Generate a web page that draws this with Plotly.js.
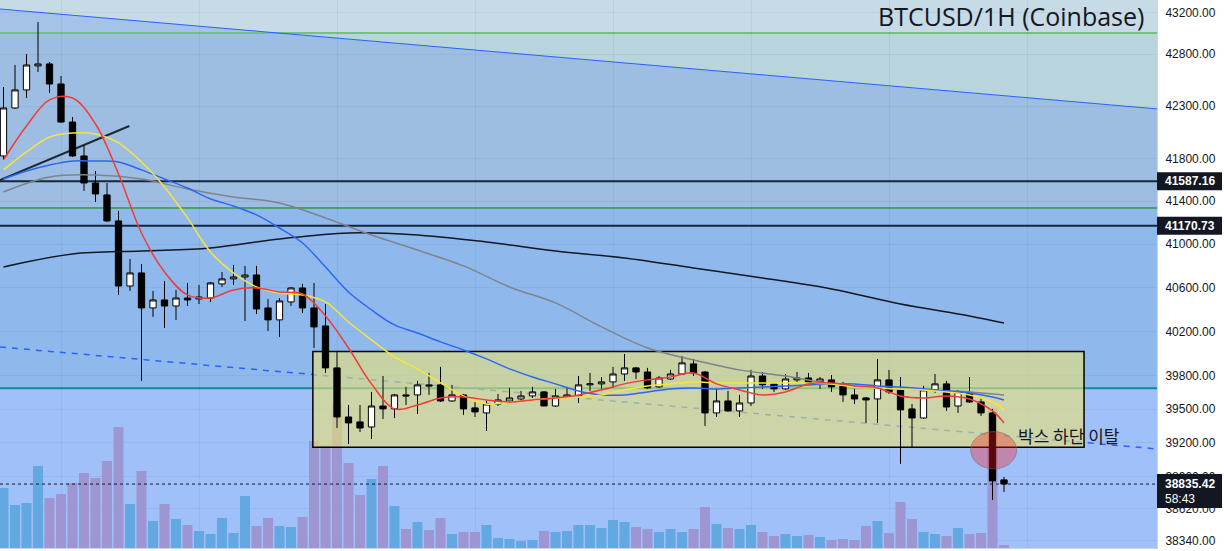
<!DOCTYPE html>
<html><head><meta charset="utf-8">
<script src="https://cdn.plot.ly/plotly-3.0.1.min.js"></script>
<style>html,body{margin:0;padding:0;background:#fff}#chart{width:1224px;height:551px}</style>
</head><body><div id="chart"></div>
<script>
// ---- data ----
const candleIndex = Array.from({length: 88}, (_, i) => i);
const openP = [41826,42282,42455,42686,42705,42512,42148,41826,41571,41459,
  41216,40614,40734,40413,40486,40431,40504,40495,40504,40633,
  40679,40697,40715,40413,40304,40468,40596,40413,40249,39869,
  39429,39385,39340,39527,39501,39626,39626,39716,39716,39572,
  39626,39510,39465,39545,39572,39590,39617,39653,39527,39608,
  39617,39716,39725,39743,39814,39869,39832,39698,39769,39814,
  39905,39832,39465,39572,39483,39554,39796,39725,39680,39761,
  39778,39743,39761,39707,39626,39599,39590,39761,39671,39501,
  39420,39671,39725,39527,39644,39563,39465,38872];
const highP = [42483,42695,42801,43112,42724,42589,42196,41930,41684,41571,
  41309,40863,40817,40569,40660,40578,40642,40624,40651,40743,
  40808,40799,40799,40495,40504,40605,40633,40642,40449,40013,
  39536,39536,39653,39796,39635,39698,39752,39823,39878,39716,
  39635,39563,39572,39635,39689,39662,39698,39662,39680,39698,
  39796,39823,39787,39878,39995,39878,39869,39796,39851,39977,
  39950,39841,39680,39662,39626,39851,39832,39734,39814,39832,
  39823,39787,39805,39743,39680,39608,39950,39851,39787,39545,
  39707,39814,39752,39671,39787,39599,39501,38898];
const lowP = [41788,42273,42378,42628,42426,42139,41817,41496,41393,41206,
  40532,40569,39752,40331,40231,40304,40431,40449,40468,40605,
  40624,40294,40358,40203,40149,40431,40367,40049,39823,39331,
  39189,39295,39233,39411,39420,39536,39456,39626,39563,39563,
  39447,39429,39304,39527,39554,39563,39599,39527,39518,39599,
  39554,39662,39680,39689,39752,39769,39680,39689,39761,39805,
  39796,39349,39429,39474,39429,39527,39680,39653,39671,39743,
  39725,39680,39653,39563,39545,39376,39376,39635,39013,39154,
  39411,39644,39483,39465,39554,39438,38696,38766];
const closeP = [42282,42455,42695,42705,42512,42148,41826,41571,41468,41216,
  40614,40734,40413,40486,40431,40504,40486,40513,40642,40679,
  40697,40715,40404,40304,40477,40596,40413,40240,39869,39429,
  39376,39331,39527,39501,39626,39617,39716,39707,39572,39626,
  39501,39474,39545,39581,39599,39617,39653,39527,39617,39626,
  39716,39725,39743,39814,39869,39832,39689,39778,39814,39914,
  39823,39465,39572,39483,39554,39796,39716,39680,39769,39778,
  39734,39769,39698,39626,39590,39581,39761,39653,39492,39420,
  39671,39725,39518,39653,39563,39465,38863,38835.42];
const volume = [600,430,450,820,500,540,650,750,700,870,
  1210,440,770,270,440,290,230,170,140,300,
  150,520,220,300,220,210,310,1070,1030,1450,
  850,530,690,820,420,190,260,180,300,140,
  160,160,230,100,90,70,80,170,160,170,
  230,230,200,280,260,210,190,160,190,160,
  190,410,240,200,190,230,160,120,140,120,
  130,110,80,90,80,220,270,150,460,290,
  160,140,120,200,140,150,1400,30];

const maFastX = [0,2,4,6,8,10,12,14,16,18,20,22,24,26,28,30,32,34,36,38,40,42,44,46,48,50,52,54,56,58,60,62,64,66,68,70,72,74,76,78,80,82,84,86,87];
const maRed = [41788,42110,42359,42378,42129,41656,41104,40743,40532,40504,40578,40596,40559,40541,40340,40049,39725,39501,39536,39599,39608,39581,39563,39581,39599,39626,39671,39725,39761,39787,39823,39725,39671,39626,39653,39725,39734,39707,39689,39617,39599,39617,39590,39483,39376];
const maYellow = [41694,41864,42006,42044,42034,41949,41769,41534,41244,40928,40734,40605,40550,40532,40468,40285,40122,39968,39860,39734,39617,39545,39563,39581,39599,39608,39626,39671,39707,39725,39743,39734,39734,39734,39734,39734,39725,39698,39689,39680,39671,39653,39626,39563,39492];
const maBlue = [41609,41684,41740,41778,41778,41769,41694,41609,41524,41421,41356,41272,41150,41011,40789,40559,40395,40258,40185,40104,40031,39950,39860,39787,39725,39662,39626,39626,39653,39680,39689,39680,39689,39698,39707,39716,39725,39725,39707,39698,39680,39662,39644,39608,39581];
const maGrayX = [0,4,8,12,16,20,24,28,32,36,40,44,48,52,56,60,64,68,72,76,80,84,87];
const maGray = [41487,41628,41646,41609,41515,41440,41384,41244,41085,40946,40799,40605,40459,40240,40049,39941,39851,39796,39725,39689,39671,39653,39626];
const maBlackX = [0,6,12,18,24,30,36,42,48,54,60,66,72,78,84,87];
const maBlack = [40789,40909,40937,40965,41048,41104,41085,41020,40937,40872,40780,40688,40587,40449,40340,40276];

const tickValues = [43200,42800,42300,41800,41400,41000,40600,40200,39800,39500,39200,38900,38620,38340];
const tickLabels = tickValues.map(v => v.toFixed(2));
const gridX = [5,17,29,41,53,65,77,89];

const priceLow = 38278, priceHigh = 43327;
const xLeft = -0.304, xRight = 100.304;
const levelBlack1 = 41587.16, levelBlack2 = 41170.73;
const levelGreenTop = 43005, levelGreenMid = 41337, levelTeal = 39685;
const lastPrice = 38835.42, countdown = '58:43';
const descLine = {x0: -0.304, y0: 43239, x1: 100.304, y1: 42273};
const dashLine = {x0: -0.304, y0: 40058, x1: 100.304, y1: 39145};
const trendLine = {x0: -0.304, y0: 41599, x1: 10.94, y1: 42110};
const boxZone = {x0: 26.9, x1: 93.96, top: 40016, bottom: 39160};
const breakCircle = {x0: 84.1, x1: 88.1, y0: 38969, y1: 39299};
const chartTitle = 'BTCUSD/1H (Coinbase)';
const noteText = '박스 하단 이탈';

// ---- build ----
const PLOT_H = 548;
const volColors = closeP.map((c, i) => c >= openP[i] ? '#64a8e2' : '#9e96d2');
const L = Math.log10;
const paperY = p => (L(p) - L(priceLow)) / (L(priceHigh) - L(priceLow));
const tCross = (L(descLine.y0) - L(levelGreenTop)) / (L(descLine.y0) - L(descLine.y1));
const xCross = descLine.x0 + tCross * (descLine.x1 - descLine.x0);

const traces = [
  {type: 'bar', x: candleIndex, y: volume, xaxis: 'x', yaxis: 'y',
   marker: {color: volColors, line: {width: 0}}, hoverinfo: 'skip'},
  {type: 'bar', xaxis: 'x', yaxis: 'y2', x: [(boxZone.x0 + boxZone.x1) / 2], width: [boxZone.x1 - boxZone.x0],
   base: [boxZone.bottom], y: [boxZone.top - boxZone.bottom],
   marker: {color: 'rgba(232,226,118,0.62)', line: {color: '#000', width: 1.5}}, hoverinfo: 'skip'},
  {type: 'scatter', mode: 'lines', xaxis: 'x', yaxis: 'y2', x: [xLeft, xRight], y: [lastPrice, lastPrice],
   line: {color: '#131722', width: 1, dash: 'dot'}, hoverinfo: 'skip'},
  {type: 'scatter', mode: 'lines', xaxis: 'x', yaxis: 'y2', x: maBlackX, y: maBlack,
   line: {color: '#131722', width: 1.5, shape: 'spline'}, hoverinfo: 'skip'},
  {type: 'scatter', mode: 'lines', xaxis: 'x', yaxis: 'y2', x: maGrayX, y: maGray,
   line: {color: '#80838c', width: 1.5, shape: 'spline'}, hoverinfo: 'skip'},
  {type: 'scatter', mode: 'lines', xaxis: 'x', yaxis: 'y2', x: maFastX, y: maBlue,
   line: {color: '#2d66f5', width: 1.5, shape: 'spline'}, hoverinfo: 'skip'},
  {type: 'scatter', mode: 'lines', xaxis: 'x', yaxis: 'y2', x: maFastX, y: maYellow,
   line: {color: '#f7e43e', width: 1.5, shape: 'spline'}, hoverinfo: 'skip'},
  {type: 'scatter', mode: 'lines', xaxis: 'x', yaxis: 'y2', x: maFastX, y: maRed,
   line: {color: '#f23a3a', width: 1.5, shape: 'spline'}, hoverinfo: 'skip'},
  {type: 'candlestick', xaxis: 'x', yaxis: 'y2', x: candleIndex,
   open: openP, high: highP, low: lowP, close: closeP,
   increasing: {line: {color: '#000', width: 1}, fillcolor: '#ffffff'},
   decreasing: {line: {color: '#000', width: 1}, fillcolor: '#000000'},
   hoverinfo: 'skip'}
];

function hline(y, color, width) {
  return {type: 'line', xref: 'x', yref: 'y2', x0: xLeft - 1, x1: xRight + 1, y0: y, y1: y,
    line: {color: color, width: width}, layer: 'below'};
}
function labelBox(p, upPx, downPx) {
  return {type: 'rect', xref: 'paper', yref: 'paper', layer: 'above', x0: 1, x1: 1.0562,
    y0: paperY(p) - downPx / PLOT_H, y1: paperY(p) + upPx / PLOT_H, fillcolor: '#131722', line: {width: 0}};
}
const shapes = [
  {type: 'rect', xref: 'x', yref: 'y2', x0: xLeft - 1, x1: xRight + 1, y0: levelTeal, y1: priceHigh + 500,
   fillcolor: '#8fb9ec', line: {width: 0}, layer: 'below'},
  {type: 'rect', xref: 'x', yref: 'y2', x0: xLeft - 1, x1: xRight + 1, y0: levelGreenMid, y1: levelGreenTop,
   fillcolor: '#9dbde3', line: {width: 0}, layer: 'below'},
  {type: 'rect', xref: 'x', yref: 'y2', x0: xLeft - 1, x1: xRight + 1, y0: levelGreenTop, y1: priceHigh + 500,
   fillcolor: '#a5c3e8', line: {width: 0}, layer: 'below'},
  {type: 'path', xref: 'x', yref: 'y2', layer: 'below', fillcolor: '#c6dbe6', line: {width: 0},
   path: `M${descLine.x0},${descLine.y0} L${xCross},${levelGreenTop} L${xRight + 1},${levelGreenTop} L${xRight + 1},${priceHigh + 500} L${descLine.x0},${priceHigh + 500} Z`},
  {type: 'path', xref: 'x', yref: 'y2', layer: 'below', fillcolor: '#b8d4dc', line: {width: 0},
   path: `M${xCross},${levelGreenTop} L${descLine.x1},${descLine.y1} L${descLine.x1},${levelGreenTop} Z`},
  hline(levelGreenTop, '#74c27c', 2),
  hline(levelGreenMid, '#4c9f6e', 2),
  hline(levelTeal, '#0f8a96', 2),
  hline(levelBlack1, '#14283a', 2),
  hline(levelBlack2, '#14283a', 2),
  {type: 'line', xref: 'x', yref: 'y2', layer: 'below', x0: descLine.x0, y0: descLine.y0, x1: descLine.x1, y1: descLine.y1,
   line: {color: '#2962ff', width: 1}},
  {type: 'line', xref: 'x', yref: 'y2', layer: 'below', x0: dashLine.x0, y0: dashLine.y0, x1: dashLine.x1, y1: dashLine.y1,
   line: {color: '#2962ff', width: 1.5, dash: '6px,6px'}},
  {type: 'line', xref: 'x', yref: 'y2', layer: 'below', x0: trendLine.x0, y0: trendLine.y0, x1: trendLine.x1, y1: trendLine.y1,
   line: {color: '#1b2a35', width: 2}},
  {type: 'circle', xref: 'x', yref: 'y2', layer: 'above', x0: breakCircle.x0, x1: breakCircle.x1, y0: breakCircle.y0, y1: breakCircle.y1,
   fillcolor: 'rgba(255,25,25,0.34)', line: {color: 'rgba(110,110,110,0.55)', width: 1}},
  labelBox(levelBlack1, 9, 9),
  labelBox(levelBlack2, 9, 9),
  labelBox(lastPrice, 10, 24)
];

const labFont = {family: 'Liberation Sans, Arial, sans-serif', size: 12, color: '#ffffff'};
const annotations = [
  {xref: 'paper', yref: 'paper', x: 0.9905, y: 0.971, xanchor: 'right', yanchor: 'middle', showarrow: false,
   text: chartTitle, font: {family: 'Open Sans, Noto Sans, sans-serif', size: 25, color: '#131722'}},
  {xref: 'paper', yref: 'paper', x: 0.8781, y: 0.2062, xanchor: 'left', yanchor: 'middle', showarrow: false,
   text: noteText, font: {family: 'Noto Sans CJK KR, sans-serif', size: 17, color: '#131722'}},
  {xref: 'paper', yref: 'paper', x: 1.0052, y: paperY(levelBlack1), xanchor: 'left', yanchor: 'middle', showarrow: false,
   text: '<b>' + levelBlack1.toFixed(2) + '</b>', font: labFont},
  {xref: 'paper', yref: 'paper', x: 1.0052, y: paperY(levelBlack2), xanchor: 'left', yanchor: 'middle', showarrow: false,
   text: '<b>' + levelBlack2.toFixed(2) + '</b>', font: labFont},
  {xref: 'paper', yref: 'paper', x: 1.0052, y: paperY(lastPrice), xanchor: 'left', yanchor: 'middle', showarrow: false,
   text: '<b>' + lastPrice.toFixed(2) + '</b>', font: labFont},
  {xref: 'paper', yref: 'paper', x: 1.0052, y: paperY(lastPrice) - 15 / PLOT_H, xanchor: 'left', yanchor: 'middle', showarrow: false,
   text: countdown, font: labFont}
];

const layout = {
  width: 1224, height: 551,
  margin: {l: 0, r: 67, t: 0, b: 3, pad: 0},
  paper_bgcolor: '#ffffff', plot_bgcolor: '#a0c0fa',
  showlegend: false, hovermode: false, dragmode: false,
  bargap: 0.13, boxgap: 0.22, barmode: 'overlay',
  xaxis: {range: [xLeft, xRight], showticklabels: false, ticks: '', tickmode: 'array', tickvals: gridX,
    showgrid: true, gridcolor: 'rgba(42,46,57,0.06)', zeroline: false, showline: true, linecolor: '#d1d4dc',
    rangeslider: {visible: false}, fixedrange: true},
  yaxis: {range: [0, 5480], visible: false, showgrid: false, zeroline: false, fixedrange: true},
  yaxis2: {overlaying: 'y', side: 'right', anchor: 'x', type: 'log', range: [L(priceLow), L(priceHigh)],
    tickmode: 'array', tickvals: tickValues, ticktext: tickLabels, ticks: '', ticklabelstandoff: 5,
    tickfont: {family: 'Liberation Sans, Arial, sans-serif', size: 12, color: '#131722'},
    showgrid: true, gridcolor: 'rgba(42,46,57,0.06)', zeroline: false, showline: true, linecolor: '#d1d4dc', fixedrange: true},
  shapes: shapes,
  annotations: annotations
};

Plotly.newPlot('chart', traces, layout, {displayModeBar: false, staticPlot: true});
</script></body></html>
